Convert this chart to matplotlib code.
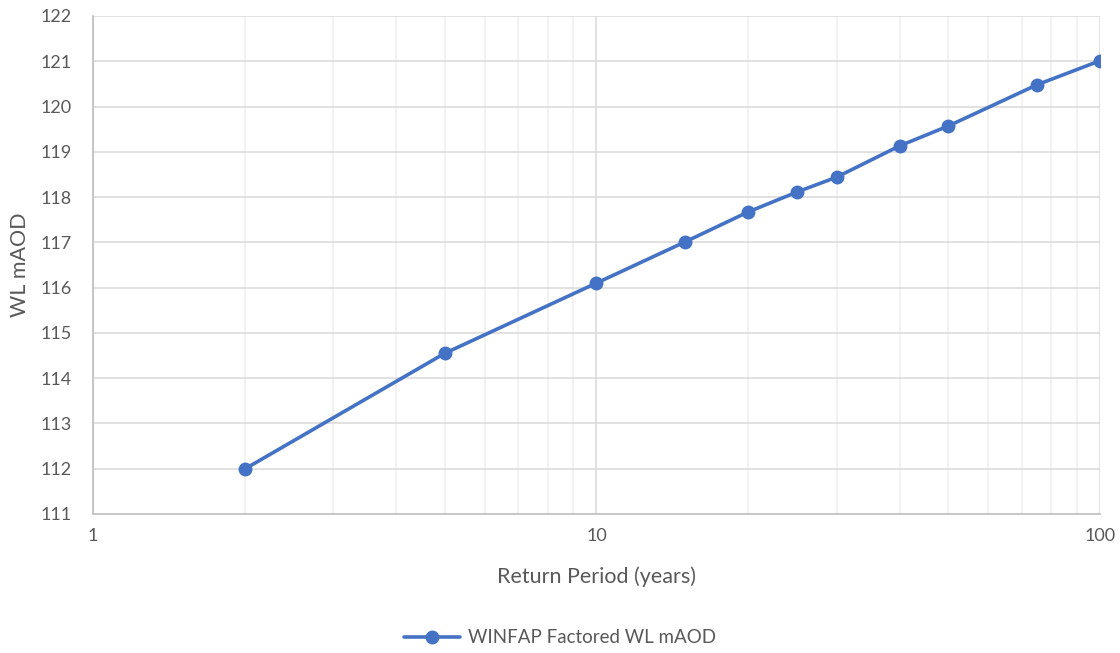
import matplotlib
matplotlib.use("Agg")
import matplotlib.pyplot as plt
from matplotlib.ticker import FixedLocator, NullFormatter, FuncFormatter

# Data
return_period = [2, 5, 10, 15, 20, 25, 30, 40, 50, 75, 100]
wl_maod = [111.99, 114.55, 116.10, 117.01, 117.67, 118.11, 118.44, 119.13, 119.57, 120.48, 121.01]
series_name = "WINFAP Factored WL mAOD"

plt.rcParams['font.family'] = ['Lato', 'DejaVu Sans']

fig = plt.figure(figsize=(11.2, 6.53), dpi=100)
ax = fig.add_axes([0.083, 0.2129, 0.899, 0.7626])

ax.plot(return_period, wl_maod, color='#4472C4', lw=2.6, marker='o', ms=9,
        label=series_name, zorder=3, solid_capstyle='round')

ax.set_xscale('log')
ax.set_xlim(1, 100)
ax.set_ylim(111, 122)
ax.set_yticks(range(111, 123))
ax.xaxis.set_major_locator(FixedLocator([1, 10, 100]))
ax.xaxis.set_major_formatter(FuncFormatter(lambda v, p: f"{v:g}"))
ax.xaxis.set_minor_locator(FixedLocator([2, 3, 4, 5, 6, 7, 8, 9, 20, 30, 40, 50, 60, 70, 80, 90]))
ax.xaxis.set_minor_formatter(NullFormatter())

ax.grid(True, which='major', color='#D9D9D9', lw=1.1)
ax.grid(True, which='minor', axis='x', color='#EFEFEF', lw=1.1)
ax.set_axisbelow(True)

for s in ['top', 'right']:
    ax.spines[s].set_visible(False)
for s in ['left', 'bottom']:
    ax.spines[s].set_color('#BFBFBF')
    ax.spines[s].set_linewidth(1.2)

ax.tick_params(which='both', length=0, labelsize=13, colors='#595959')
ax.tick_params(axis='y', pad=15)
ax.tick_params(axis='x', pad=10)

ax.set_xlabel("Return Period (years)", fontsize=15.5, color='#595959', labelpad=16)
ax.set_ylabel("WL mAOD", fontsize=15.5, color='#595959', labelpad=8)

fig.legend(loc='center', bbox_to_anchor=(0.5, 0.023), frameon=False, fontsize=13.5,
           labelcolor='#595959', handlelength=3, handletextpad=0.4)

fig.savefig("out.png", dpi=100)
